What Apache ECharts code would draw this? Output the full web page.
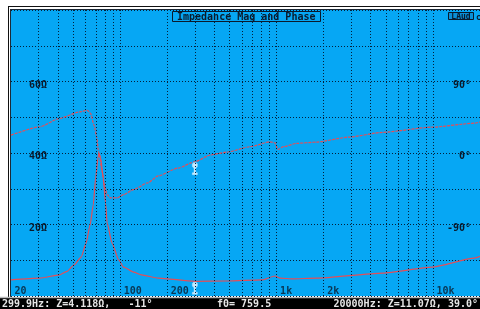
<!DOCTYPE html>
<html>
<head>
<meta charset="UTF-8">
<title></title>
<script src="https://cdn.jsdelivr.net/npm/echarts@6/dist/echarts.min.js"></script>
</head>
<body style="margin:0;background:#fff;">
<div id="chart" style="width:480px;height:309px;"></div>
<script type="text/javascript">
// impedance magnitude (ohm)
var zFreq = [20, 30.5, 40.8, 45.2, 50.8, 56.2, 60.5, 64.1, 67.2, 69.6, 72.0, 73.0, 74.9, 77.8, 80.5, 82.4, 88.6, 97.7, 105, 121.6, 136.6, 175, 299.9, 484, 807, 975, 1048, 1248, 1797, 4762, 9855, 18440, 20000];
var zMag = [4.5, 5.0, 5.9, 6.8, 8.7, 10.9, 14.8, 19.9, 25.5, 33.0, 38.7, 40.0, 38.7, 33.0, 26.0, 20.4, 14.8, 10.1, 8.1, 6.7, 5.9, 5.0, 4.118, 4.2, 4.5, 5.6, 5.0, 4.8, 5.0, 6.4, 8.1, 10.6, 11.07];
// phase (deg)
var phFreq = [20, 30.5, 40.8, 54.6, 61.6, 64.7, 67.9, 71.0, 72.0, 73.0, 76.6, 79.4, 82.4, 86.6, 95.3, 105, 121.6, 150, 175, 234, 299.9, 378, 484, 677, 906, 975, 1018, 1106, 1342, 1797, 2903, 4762, 9855, 18440, 20000];
var phDeg = [22.5, 32.9, 43.4, 51.6, 53.75, 49.6, 35, 18.75, 5.9, 0, -23.4, -42, -52.5, -56.6, -56.6, -52.5, -46, -37.5, -28.75, -19, -11, -2.5, 1.25, 7.9, 14.1, 12.9, 4.6, 7.9, 12.1, 13.75, 20, 26, 32.5, 37.5, 39];

var gridFreqs = [30, 40, 50, 60, 70, 80, 90, 100, 200, 300, 400, 500, 600, 700, 800, 900, 1000, 2000, 3000, 4000, 5000, 6000, 7000, 8000, 9000, 10000];
var xTicks = [20, 100, 200, 1000, 2000, 10000];
var xTickLabels = ['20', '100', '200', '1k', '2k', '10k'];
var zTicks = [20, 40, 60];
var phTicks = [-90, 0, 90];

var cursor = {freq: 299.9, z: 4.118, ph: -11};
var statusLeft = '299.9Hz: Z=4.118Ω,   -11°';
var statusMid = 'f0= 759.5';
var statusRight = '20000Hz: Z=11.07Ω, 39.0°';

var mono = '"DejaVu Sans Mono", monospace';
var dark = '#0a1a2c';
var red = '#e44e58';
var gridCol = '#02203a';
var pin = 'path://M1,0H5V1H6V4H5V5H4V10H6V12H0V10H2V5H1V4H0V1H1Z';

var chart = echarts.init(document.getElementById('chart'));
var option = {
  animation: false,
  backgroundColor: '#fff',
  title: {
    text: 'Impedance Mag and Phase',
    left: 172, top: 12,
    padding: [1, 5, 0, 5],
    borderWidth: 1, borderColor: dark,
    textStyle: {fontFamily: mono, fontSize: 10, fontWeight: 'bold', color: dark, lineHeight: 8}
  },
  grid: {
    show: true, left: 11, top: 10, width: 475, height: 286,
    backgroundColor: '#06a7f4', borderWidth: 0
  },
  xAxis: {
    type: 'log', logBase: 10, min: 20, max: 20000,
    axisLine: {show: false}, axisTick: {show: false},
    axisLabel: {show: false}, splitLine: {show: false}
  },
  yAxis: [
    {
      type: 'value', min: 0, max: 80, interval: 10, position: 'left',
      axisLine: {show: false}, axisTick: {show: false},
      splitLine: {show: true, lineStyle: {color: gridCol, type: [1, 2], width: 1}},
      axisLabel: {
        inside: true, margin: 18, verticalAlign: 'top', lineHeight: 7,
        fontFamily: mono, fontSize: 10, fontWeight: 'bold', color: dark,
        formatter: function (v) { return zTicks.indexOf(v) >= 0 ? v + 'Ω' : ''; }
      }
    },
    {
      type: 'value', min: -180, max: 180, interval: 45, position: 'right',
      axisLine: {show: false}, axisTick: {show: false}, splitLine: {show: false},
      axisLabel: {
        inside: true, margin: 9, verticalAlign: 'top', lineHeight: 7,
        fontFamily: mono, fontSize: 10, fontWeight: 'bold', color: dark,
        formatter: function (v) { return phTicks.indexOf(v) >= 0 ? v + '°' : ''; }
      }
    }
  ],
  series: [
    {
      name: 'ticks', type: 'scatter', yAxisIndex: 0, z: 1, silent: true,
      symbolSize: 1, itemStyle: {color: 'rgba(0,0,0,0)'},
      data: xTicks.map(function (f, i) { return [f, 1.4, xTickLabels[i]]; }),
      label: {
        show: true, position: 'right', distance: 3,
        fontFamily: mono, fontSize: 10, fontWeight: 'bold', color: dark,
        formatter: function (p) { return p.data[2]; }
      },
      markLine: {
        silent: true, symbol: ['none', 'none'], animation: false,
        label: {show: false},
        lineStyle: {color: gridCol, type: [1, 2], width: 1},
        data: gridFreqs.map(function (f) { return {xAxis: f}; })
      }
    },
    {
      name: 'Z', type: 'line', yAxisIndex: 0, z: 3, showSymbol: false,
      smooth: 0.2, smoothMonotone: 'x',
      lineStyle: {color: red, width: 1.2},
      data: zFreq.map(function (f, i) { return [f, zMag[i]]; })
    },
    {
      name: 'phase', type: 'line', yAxisIndex: 1, z: 3, showSymbol: false,
      smooth: 0.2, smoothMonotone: 'x',
      lineStyle: {color: red, width: 1.2, type: [3, 1]},
      data: phFreq.map(function (f, i) { return [f, phDeg[i]]; })
    },
    {
      name: 'cursorZ', type: 'scatter', yAxisIndex: 0, z: 4, silent: true,
      symbol: pin, symbolSize: [5, 12], symbolOffset: [0, 7],
      itemStyle: {color: '#f4fbff', borderColor: '#bfe6ff', borderWidth: 0.5},
      data: [[cursor.freq, cursor.z]]
    },
    {
      name: 'cursorPh', type: 'scatter', yAxisIndex: 1, z: 4, silent: true,
      symbol: pin, symbolSize: [5, 12], symbolOffset: [0, 7],
      itemStyle: {color: '#f4fbff', borderColor: '#bfe6ff', borderWidth: 0.5},
      data: [[cursor.freq, cursor.ph]]
    }
  ],
  graphic: [
    // double frame
    {type: 'line', shape: {x1: 8, y1: 6.5, x2: 480, y2: 6.5}, style: {stroke: '#111', lineWidth: 1}, silent: true},
    {type: 'line', shape: {x1: 8.5, y1: 6, x2: 8.5, y2: 297}, style: {stroke: '#111', lineWidth: 1}, silent: true},
    {type: 'line', shape: {x1: 10, y1: 9.5, x2: 480, y2: 9.5}, style: {stroke: '#1c2a38', lineWidth: 1}, silent: true},
    {type: 'line', shape: {x1: 10.5, y1: 9, x2: 10.5, y2: 297}, style: {stroke: '#1c2a38', lineWidth: 1}, silent: true},
    // LAud badge
    {type: 'rect', shape: {x: 448.5, y: 12.5, width: 25, height: 7}, style: {fill: '#0a8fd6', stroke: dark, lineWidth: 1}, silent: true},
    {type: 'text', x: 461, y: 16.5, silent: true,
      style: {text: 'LAud', fill: dark, font: 'bold 8px ' + mono, align: 'center', verticalAlign: 'middle'}},
    {type: 'text', x: 476, y: 17.5, silent: true,
      style: {text: 'c', fill: dark, font: 'bold 8px ' + mono, align: 'left', verticalAlign: 'middle'}},
    // status bar
    {type: 'rect', shape: {x: 0, y: 297, width: 480, height: 12}, style: {fill: '#000'}, silent: true},
    {type: 'line', shape: {x1: 0, y1: 297.5, x2: 480, y2: 297.5}, style: {stroke: '#b8b8b8', lineWidth: 1.5}, silent: true},
    {type: 'text', x: 2, y: 304, silent: true,
      style: {text: statusLeft, fill: '#e6e6e6', font: 'bold 10px ' + mono, align: 'left', verticalAlign: 'middle'}},
    {type: 'text', x: 217, y: 304, silent: true,
      style: {text: statusMid, fill: '#e6e6e6', font: 'bold 10px ' + mono, align: 'left', verticalAlign: 'middle'}},
    {type: 'text', x: 478, y: 304, silent: true,
      style: {text: statusRight, fill: '#e6e6e6', font: 'bold 10px ' + mono, align: 'right', verticalAlign: 'middle'}}
  ]
};
chart.setOption(option, true);
</script>
</body>
</html>
